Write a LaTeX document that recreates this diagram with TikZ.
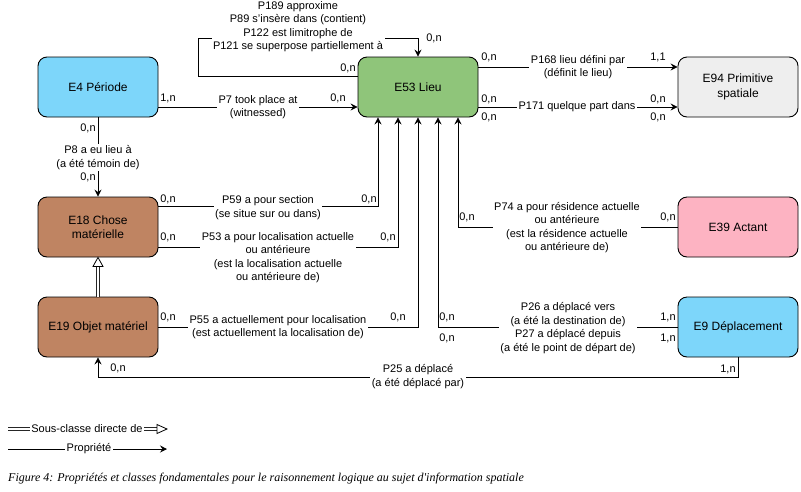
\documentclass[tikz,border=0pt]{standalone}
\usepackage{fontspec}
\setmainfont{Liberation Sans}
\newfontfamily\capfont{Liberation Serif}
\usetikzlibrary{arrows.meta,calc}
\definecolor{cyanbox}{HTML}{7DD6FA}
\definecolor{greenbox}{HTML}{8FC57A}
\definecolor{graybox}{HTML}{EEEEEE}
\definecolor{brownbox}{HTML}{BF8462}
\definecolor{pinkbox}{HTML}{FDB3C2}
\begin{document}
\begin{tikzpicture}[x=1pt,y=-1pt,
 box/.style={draw=black, line width=0.9pt, rounded corners=9pt, minimum width=120pt, minimum height=60pt, inner sep=0pt, align=center, font=\fontsize{12}{14.5}\selectfont},
 arr/.style={line width=0.8pt, -{Stealth[length=7pt,width=7pt,inset=2.5pt]}},
 lbl/.style={fill=white, inner sep=1.5pt, align=center, font=\fontsize{11}{13.4}\selectfont},
 card/.style={inner sep=0pt, font=\fontsize{11}{13}\selectfont},
 dbl/.style={double=white, double distance=2pt, line width=0.7pt, draw=black!85},
 hollow/.style={fill=white, draw=black, line width=0.8pt}]
\useasboundingbox (0,0) rectangle (801,491);
% boxes
\node[box, fill=cyanbox] (e4) at (98,87) {E4 Période};
\node[box, fill=greenbox] (e53) at (418,87) {E53 Lieu};
\node[box, fill=graybox] (e94) at (738,87) {E94 Primitive\\spatiale};
\node[box, fill=brownbox] (e18) at (98,227) {E18 Chose\\matérielle};
\node[box, fill=pinkbox] (e39) at (738,227) {E39 Actant};
\node[box, fill=brownbox] (e19) at (98,327) {E19 Objet matériel};
\node[box, fill=cyanbox] (e9) at (738,327) {E9 Déplacement};
% connectors
\coordinate (lp) at (198,38);
\draw[arr] ([yshift=11pt]e53.west) -| (lp) -| (e53.north);
\draw[arr] ([yshift=-20pt]e4.east) -- ([yshift=-20pt]e4.east -| e53.west);
\draw[arr] ([yshift=20pt]e53.east) -- ([yshift=20pt]e53.east -| e94.west);
\draw[arr] ([yshift=-20pt]e53.east) -- ([yshift=-20pt]e53.east -| e94.west);
\draw[arr] (e4.south) -- (e18.north);
\draw[arr] ([yshift=-10pt]e18.north east) -| ([xshift=-40pt]e53.south);
\draw[arr] ([yshift=10pt]e18.south east) -| ([xshift=-20pt]e53.south);
\draw[arr] (e19.east) -| (e53.south);
\draw[arr] (e9.west) -| ([xshift=20pt]e53.south);
\draw[arr] (e39.west) -| ([xshift=40pt]e53.south);
\draw[arr] (e9.south) -- ([yshift=-20pt]e9.south) -| (e19.south);
% inheritance
\draw[dbl] (e19.north) -- ([yshift=-9pt]e18.south);
\draw[hollow] ($(e18.south)+(-5,9)$) -- (e18.south) -- ($(e18.south)+(5,9)$) -- cycle;
% edge labels
\node[lbl] (l1) at (298,26.5) {P189 approxime\\P89 s'insère dans (contient)\\P122 est limitrophe de\\P121 se superpose partiellement à};
\node[lbl] (l2) at (258,107) {P7 took place at\\(witnessed)};
\node[lbl] (l3) at (578,67) {P168 lieu défini par\\(définit le lieu)};
\node[lbl] (l4) at (577,107) {P171 quelque part dans};
\node[lbl] (l5) at (98,157.5) {P8 a eu lieu à\\(a été témoin de)};
\node[lbl] (l6) at (268,207.5) {P59 a pour section\\(se situe sur ou dans)};
\node[lbl] (l7) at (278,257.5) {P53 a pour localisation actuelle\\ou antérieure\\(est la localisation actuelle\\ou antérieure de)};
\node[lbl] (l8) at (567,227.5) {P74 a pour résidence actuelle\\ou antérieure\\(est la résidence actuelle\\ou antérieure de)};
\node[lbl] (l9) at (278,327) {P55 a actuellement pour localisation\\(est actuellement la localisation de)};
\node[lbl] (l10) at (568,328) {P26 a déplacé vers\\(a été la destination de)\\P27 a déplacé depuis\\(a été le point de départ de)};
\node[lbl] (l11) at (418,376.5) {P25 a déplacé\\(a été déplacé par)};
% cardinalities
\node[card] (c1) at (348,68) {0,n};
\node[card] (c2) at (434,38) {0,n};
\node[card] (c3) at (338,98) {0,n};
\node[card] (c4) at (168,98) {1,n};
\node[card] (c5) at (88,128) {0,n};
\node[card] (c6) at (88,177) {0,n};
\node[card] (c7) at (168,199) {0,n};
\node[card] (c8) at (369,199) {0,n};
\node[card] (c9) at (168,237) {0,n};
\node[card] (c10) at (388,237) {0,n};
\node[card] (c11) at (168,317) {0,n};
\node[card] (c12) at (398,317) {0,n};
\node[card] (c13) at (447,317) {0,n};
\node[card] (c14) at (447,338) {0,n};
\node[card] (c15) at (668,317) {1,n};
\node[card] (c16) at (668,338) {1,n};
\node[card] (c17) at (728,369) {1,n};
\node[card] (c18) at (118,368) {0,n};
\node[card] (c19) at (467,217) {0,n};
\node[card] (c20) at (668,217) {0,n};
\node[card] (c21) at (489,57) {0,n};
\node[card] (c22) at (658,57) {1,1};
\node[card] (c23) at (489,99) {0,n};
\node[card] (c24) at (489,117) {0,n};
\node[card] (c25) at (658,99) {0,n};
\node[card] (c26) at (658,117) {0,n};
% legend
\coordinate (sa) at (8,429);
\coordinate (sb) at (157,429);
\coordinate (st) at (167,429);
\draw[dbl] (sa) -- (sb);
\draw[hollow] ($(sb)+(0,-4.5)$) -- (st) -- ($(sb)+(0,4.5)$) -- cycle;
\node[lbl] (lg1) at (87,429) {Sous-classe directe de};
\coordinate (pa) at (8,449);
\coordinate (pb) at (167,449);
\draw[arr] (pa) -- (pb);
\node[lbl] (lg2) at (89,449) {Propriété};
% caption
\node[anchor=west, inner sep=0pt, font=\capfont\itshape\fontsize{12}{14}\selectfont] (cap) at (8,479) {Figure 4: Propriétés et classes fondamentales pour le raisonnement logique au sujet d'information spatiale};
\end{tikzpicture}
\end{document}
